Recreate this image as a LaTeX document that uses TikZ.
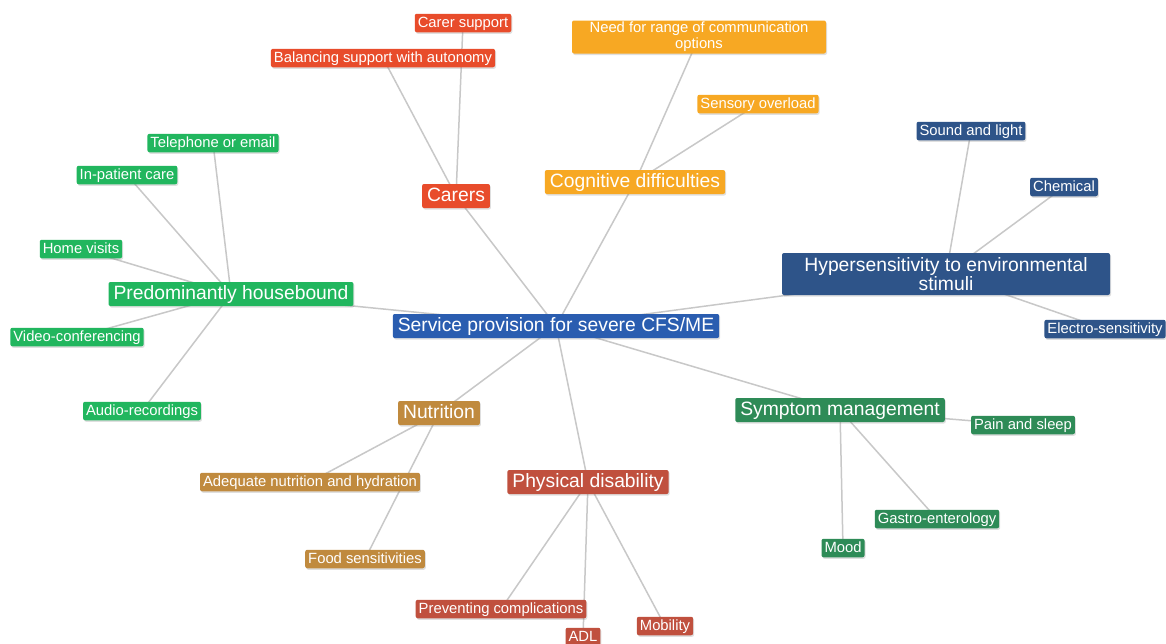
\documentclass[tikz,border=0pt]{standalone}
\usepackage{fontspec}
\setmainfont{Liberation Sans}
\usepackage{xcolor}
\usetikzlibrary{positioning,shadows,backgrounds}

\definecolor{carercol}{RGB}{232,76,43}
\definecolor{cogncol}{RGB}{247,168,35}
\definecolor{hypercol}{RGB}{46,84,137}
\definecolor{servicecol}{RGB}{42,93,176}
\definecolor{housecol}{RGB}{33,182,94}
\definecolor{symptcol}{RGB}{46,139,87}
\definecolor{nutricol}{RGB}{192,138,62}
\definecolor{physcol}{RGB}{192,80,62}
\definecolor{linkcol}{RGB}{200,200,200}

\begin{document}
\begin{tikzpicture}[
  x=1pt, y=-1pt,
  box/.style={
    rounded corners=2pt,
    text=white,
    inner ysep=0pt,
    drop shadow={shadow xshift=1pt, shadow yshift=-1.5pt, opacity=0.25}
  },
  leaf/.style={
    box,
    font=\fontsize{14.8}{15}\selectfont,
    text height=11pt, text depth=2.5pt,
    minimum height=18.5pt,
    inner xsep=3pt
  },
  topic/.style={
    box,
    font=\fontsize{19.3}{19}\selectfont,
    text height=14pt, text depth=3.5pt,
    minimum height=24pt,
    inner xsep=5pt
  },
  link/.style={draw=linkcol, line width=1.5pt}
]
  \useasboundingbox (0,0) rectangle (1166,643);

  % centre
  \node[topic, fill=servicecol] (Service) at (556,326) {Service provision for severe CFS/ME};

  % carers
  \node[topic, fill=carercol] (Carers)    at (456,196) {Carers};
  \node[leaf, fill=carercol]  (CarerSup)  at (463,23)  {Carer support};
  \node[leaf, fill=carercol]  (Balancing) at (383,58)  {Balancing support with autonomy};

  % cognitive difficulties
  \node[topic, fill=cogncol] (Cognitive) at (635,182) {Cognitive difficulties};
  \node[box, fill=cogncol, font=\fontsize{14.8}{16}\selectfont, align=center,
        minimum width=254pt, minimum height=33pt] (Range) at (699,37)
        {Need for range of communication\\options};
  \node[leaf, fill=cogncol] (Overload) at (758,104) {Sensory overload};

  % hypersensitivity
  \node[box, fill=hypercol, font=\fontsize{19.3}{19}\selectfont, align=center,
        minimum width=328pt, minimum height=42pt] (Hyper) at (946,274)
        {Hypersensitivity to environmental\\stimuli};
  \node[leaf, fill=hypercol] (Sound)    at (971,131)  {Sound and light};
  \node[leaf, fill=hypercol] (Chemical) at (1064,187) {Chemical};
  \node[leaf, fill=hypercol] (Electro)  at (1105,329) {Electro-sensitivity};

  % housebound
  \node[topic, fill=housecol] (House)     at (231,294) {Predominantly housebound};
  \node[leaf, fill=housecol]  (Phone)     at (213,143) {Telephone or email};
  \node[leaf, fill=housecol]  (InPatient) at (127,175) {In-patient care};
  \node[leaf, fill=housecol]  (Visits)    at (81,249)  {Home visits};
  \node[leaf, fill=housecol]  (Video)     at (77,337)  {Video-conferencing};
  \node[leaf, fill=housecol]  (Audio)     at (142,411) {Audio-recordings};

  % nutrition
  \node[topic, fill=nutricol] (Nutrition) at (439,413) {Nutrition};
  \node[leaf, fill=nutricol]  (Adequate)  at (310,482) {Adequate nutrition and hydration};
  \node[leaf, fill=nutricol]  (Food)      at (365,559) {Food sensitivities};

  % physical disability
  \node[topic, fill=physcol] (Physical)   at (588,482) {Physical disability};
  \node[leaf, fill=physcol]  (Preventing) at (501,609) {Preventing complications};
  \node[leaf, fill=physcol]  (ADL)        at (583,637) {ADL};
  \node[leaf, fill=physcol]  (Mobility)   at (665,626) {Mobility};

  % symptom management
  \node[topic, fill=symptcol] (Symptom) at (840,410)  {Symptom management};
  \node[leaf, fill=symptcol]  (Pain)    at (1023,425) {Pain and sleep};
  \node[leaf, fill=symptcol]  (Gastro)  at (937,519)  {Gastro-enterology};
  \node[leaf, fill=symptcol]  (Mood)    at (843,548)  {Mood};

  \begin{scope}[on background layer]
    \fill[white] (0,0) rectangle (1166,643);

    \draw[link] (Service.center) -- (Carers.center);
    \draw[link] (Service.center) -- (Cognitive.center);
    \draw[link] (Service.center) -- (Hyper.center);
    \draw[link] (Service.center) -- (House.center);
    \draw[link] (Service.center) -- (Nutrition.center);
    \draw[link] (Service.center) -- (Physical.center);
    \draw[link] (Service.center) -- (Symptom.center);

    \draw[link] (Carers.center) -- (CarerSup.center);
    \draw[link] (Carers.center) -- (Balancing.center);

    \draw[link] (Cognitive.center) -- (Range.center);
    \draw[link] (Cognitive.center) -- (Overload.center);

    \draw[link] (Hyper.center) -- (Sound.center);
    \draw[link] (Hyper.center) -- (Chemical.center);
    \draw[link] (Hyper.center) -- (Electro.center);

    \draw[link] (House.center) -- (Phone.center);
    \draw[link] (House.center) -- (InPatient.center);
    \draw[link] (House.center) -- (Visits.center);
    \draw[link] (House.center) -- (Video.center);
    \draw[link] (House.center) -- (Audio.center);

    \draw[link] (Nutrition.center) -- (Adequate.center);
    \draw[link] (Nutrition.center) -- (Food.center);

    \draw[link] (Physical.center) -- (Preventing.center);
    \draw[link] (Physical.center) -- (ADL.center);
    \draw[link] (Physical.center) -- (Mobility.center);

    \draw[link] (Symptom.center) -- (Pain.center);
    \draw[link] (Symptom.center) -- (Gastro.center);
    \draw[link] (Symptom.center) -- (Mood.center);
  \end{scope}
\end{tikzpicture}
\end{document}
